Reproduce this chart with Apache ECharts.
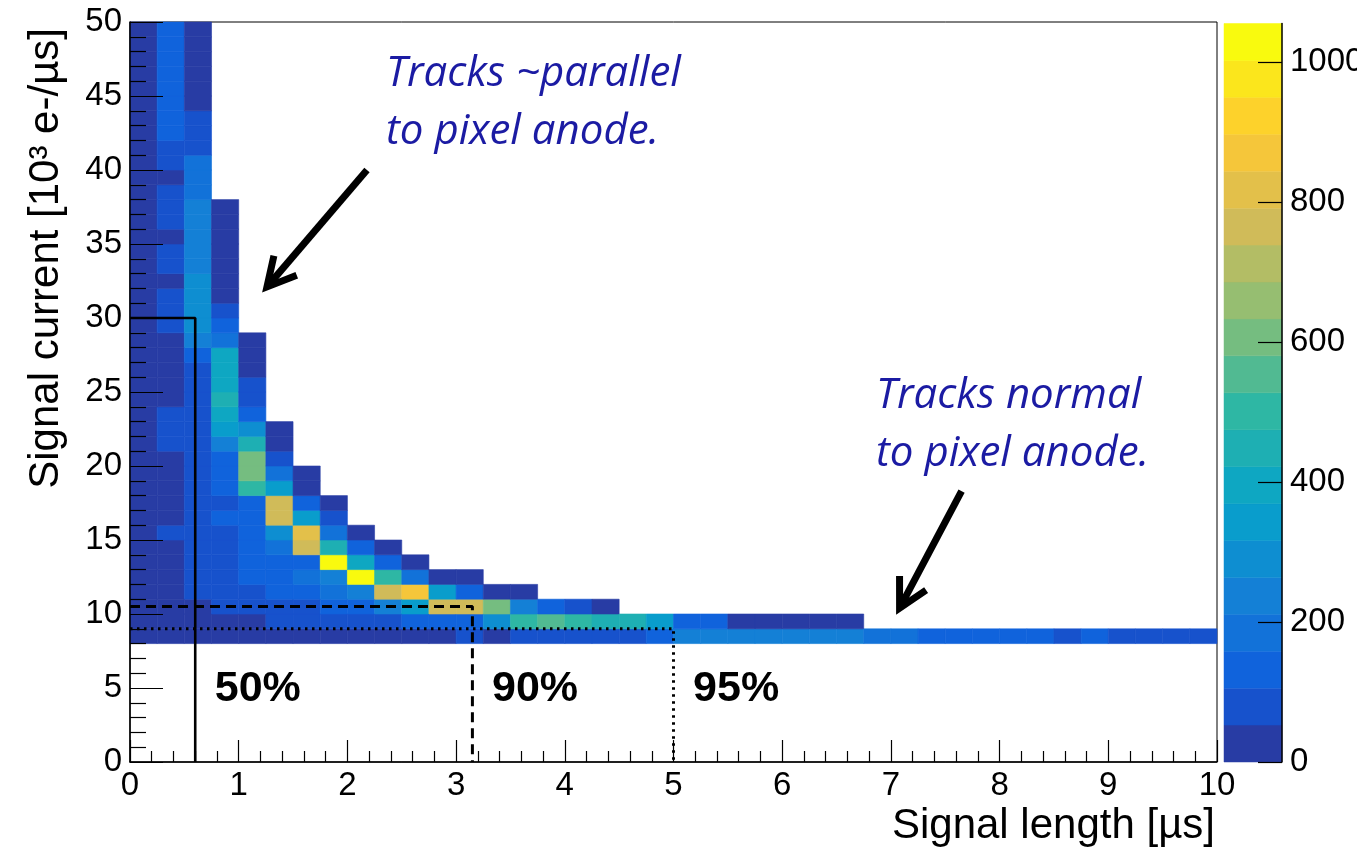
<!DOCTYPE html>
<html>
<head>
<meta charset="utf-8">
<script src="https://cdn.jsdelivr.net/npm/echarts@6/dist/echarts.min.js"></script>
<style>
  html, body { margin: 0; padding: 0; background: #fff; }
  #chart { width: 1357px; height: 847px; }
</style>
</head>
<body>
<div id="chart"></div>
<script>
// 2D histogram of pixel signals: signal current vs. signal length
const xBinWidth = 0.25;   // µs
const yBinHeight = 1;     // 10^3 e-/µs
const firstRowY = 8;      // every column starts at the 8..9 row

// Entries per 0.25 µs column, listed from the y = 8 row upward
const columnCounts = [
  [31,24,18,27,22,35,29,21,33,26,19,30,25,38,28,23,34,27,20,32,26,36,29,24,31,22,28,35,25,30,21,27,33,24,29,36,26,32,23,28,34,30],
  [40,44,47,45,43,48,46,58,44,42,45,47,49,57,61,56,48,46,44,47,50,60,64,59,49,57,62,47,58,63,66,50,72,84,112,118,121,124,119,126,122,128],
  [24,38,50,62,68,72,75,78,74,70,73,69,66,64,60,63,58,61,57,128,236,284,296,290,278,250,242,236,228,222,198,186,172,96,84,66,44,38,34,30,26,22],
  [30,46,64,72,80,88,92,98,112,102,118,126,138,232,346,398,452,404,392,380,184,136,70,40,34,28,24,20,16,12],
  [34,50,86,104,122,134,142,146,150,154,508,612,598,448,288,140,94,70,46,36,22],
  [42,74,96,128,140,150,190,300,770,752,342,176,80,44,26],
  [44,68,90,136,168,152,774,812,336,148,40,24],
  [38,76,130,182,224,1030,456,178,92,36],
  [34,70,144,236,1055,402,146,30],
  [30,66,230,780,494,132,32],
  [28,120,352,870,186,38],
  [36,126,762,334,34],
  [60,132,786,138,40],
  [48,296,596,42],
  [64,486,226,36],
  [70,560,118],
  [74,502,88],
  [78,440,42],
  [82,430],
  [116,338],
  [222,124],
  [238,116],
  [242,48],
  [232,42],
  [226,38],
  [244,34],
  [218,30],
  [196],
  [180],
  [154],
  [148],
  [150],
  [142],
  [138],
  [100],
  [134],
  [94],
  [98],
  [90],
  [102]
];

// Colour scale: 20 contour levels from 0 to the histogram maximum
const zMax = 1055;
const palette = ['#283ca4','#1752cc','#1063dc','#1272d9','#1480d6','#0e8ed1','#099dcc','#0ea7c2','#1eafb3','#2eb7a4',
                 '#51ba92','#75bd80','#96be71','#b3bd65','#d0bb59','#e3c04a','#f5c63a','#fdd22b','#fbe61c','#f9fa0e'];
const colorbarTicks = [0, 200, 400, 600, 800, 1000];

// Containment thresholds: signal length limit and current level for each fraction
const thresholdX = [0.6, 3.15, 5.0];
const thresholdY = [30, 10.5, 9.0];
const thresholdText = ['50%', '90%', '95%'];
const thresholdDash = ['solid', [10, 6], [2.5, 4.5]];
const thresholdWidth = [2.6, 3, 3];

// Annotation arrows: [tail x, tail y, head x, head y] in axis units
const arrowSegments = [
  [2.18, 40.0, 1.26, 32.1],
  [7.65, 18.3, 7.08, 10.4]
];

const levelStep = zMax / palette.length;

const cells = [];
columnCounts.forEach((col, i) => {
  col.forEach((v, j) => {
    cells.push([i * xBinWidth, firstRowY + j * yBinHeight, v]);
  });
});

const pieces = palette.map((c, i) => (
  i === palette.length - 1
    ? { gte: i * levelStep, lte: zMax * 1.01, color: c }
    : { gte: i * levelStep, lt: (i + 1) * levelStep, color: c }
));

const bands = palette.map((c, i) => [i * levelStep, (i + 1) * levelStep]);

const tickFont = 'Liberation Sans';
const tickSize = 33;
const axisColor = '#000';

const chart = echarts.init(document.getElementById('chart'), null, { renderer: 'canvas' });

const series = [
  {
    name: 'histogram',
    type: 'custom',
    xAxisIndex: 0,
    yAxisIndex: 0,
    z: 1,
    data: cells,
    encode: { x: 0, y: 1 },
    renderItem(params, api) {
      const x0 = api.value(0), y0 = api.value(1);
      const p0 = api.coord([x0, y0 + yBinHeight]);
      const p1 = api.coord([x0 + xBinWidth, y0]);
      const c = api.visual('color');
      return {
        type: 'rect',
        shape: { x: p0[0], y: p0[1], width: p1[0] - p0[0], height: p1[1] - p0[1] },
        style: { fill: c, stroke: c, lineWidth: 0.6 }
      };
    }
  },
  {
    name: 'colorbar',
    type: 'custom',
    xAxisIndex: 1,
    yAxisIndex: 1,
    z: 1,
    silent: true,
    data: bands,
    encode: { y: [0, 1] },
    renderItem(params, api) {
      const p0 = api.coord([0, api.value(1)]);
      const p1 = api.coord([1, api.value(0)]);
      const c = palette[params.dataIndex];
      return {
        type: 'rect',
        shape: { x: p0[0], y: p0[1], width: p1[0] - p0[0], height: p1[1] - p0[1] },
        style: { fill: c, stroke: c, lineWidth: 0.5 }
      };
    }
  }
];

thresholdX.forEach((tx, i) => {
  series.push({
    name: thresholdText[i],
    type: 'line',
    xAxisIndex: 0,
    yAxisIndex: 0,
    z: 4,
    silent: true,
    symbol: 'none',
    data: [[0, thresholdY[i]], [tx, thresholdY[i]], [tx, 0]],
    lineStyle: { color: '#000', width: thresholdWidth[i], type: thresholdDash[i] }
  });
});

series.push({
  name: 'fractions',
  type: 'scatter',
  xAxisIndex: 0,
  yAxisIndex: 0,
  z: 5,
  silent: true,
  symbolSize: 0,
  itemStyle: { opacity: 1 },
  data: thresholdX.map(tx => [tx + 0.18, 4.9]),
  label: {
    show: true,
    position: [0, 0],
    align: 'left',
    verticalAlign: 'middle',
    formatter: p => thresholdText[p.dataIndex],
    fontFamily: tickFont,
    fontWeight: 'bold',
    fontSize: 43,
    color: '#000',
    opacity: 1
  }
});

series.push({
  name: 'arrows',
  type: 'custom',
  xAxisIndex: 0,
  yAxisIndex: 0,
  z: 6,
  silent: true,
  data: arrowSegments,
  encode: { x: [0, 2], y: [1, 3] },
  renderItem(params, api) {
    const t = api.coord([api.value(0), api.value(1)]);
    const h = api.coord([api.value(2), api.value(3)]);
    const ang = Math.atan2(t[1] - h[1], t[0] - h[0]);
    const L = 32, a = 28 * Math.PI / 180;
    const p1 = [h[0] + L * Math.cos(ang + a), h[1] + L * Math.sin(ang + a)];
    const p2 = [h[0] + L * Math.cos(ang - a), h[1] + L * Math.sin(ang - a)];
    const s = [h[0] + 4 * Math.cos(ang), h[1] + 4 * Math.sin(ang)];
    return {
      type: 'group',
      children: [
        { type: 'line', shape: { x1: t[0], y1: t[1], x2: s[0], y2: s[1] }, style: { stroke: '#000', lineWidth: 7 } },
        { type: 'polyline', shape: { points: [p1, h, p2] }, style: { stroke: '#000', lineWidth: 7, fill: null, lineJoin: 'miter' } }
      ]
    };
  }
});

const noteStyle = {
  fill: '#1b1ba3',
  font: 'italic 42px "Open Sans", Lato, sans-serif',
  lineHeight: 58
};

chart.setOption({
  animation: false,
  backgroundColor: '#fff',
  grid: [
    { left: 130, top: 22, width: 1087, height: 740, outerBoundsMode: 'none', containLabel: false,
      show: true, borderColor: '#000', borderWidth: 1, backgroundColor: 'transparent' },
    { left: 1224, top: 762 - zMax * 0.7, width: 58, height: zMax * 0.7, outerBoundsMode: 'none', containLabel: false, show: false }
  ],
  xAxis: [
    {
      gridIndex: 0, type: 'value', min: 0, max: 10, interval: 1, z: 10,
      axisLine: { show: true, onZero: false, lineStyle: { color: axisColor, width: 1.5 } },
      axisTick: { show: true, inside: true, length: 22, lineStyle: { color: axisColor, width: 1.2 } },
      minorTick: { show: true, splitNumber: 5, length: 11, lineStyle: { color: axisColor, width: 1.2 } },
      axisLabel: { color: '#000', fontFamily: tickFont, fontSize: tickSize, margin: 7 },
      splitLine: { show: false }
    },
    { gridIndex: 1, type: 'value', min: 0, max: 1, show: false }
  ],
  yAxis: [
    {
      gridIndex: 0, type: 'value', min: 0, max: 50, interval: 5, z: 10,
      axisLine: { show: true, onZero: false, lineStyle: { color: axisColor, width: 1.5 } },
      axisTick: { show: true, inside: true, length: 33, lineStyle: { color: axisColor, width: 1.2 } },
      minorTick: { show: true, splitNumber: 5, length: 16, lineStyle: { color: axisColor, width: 1.2 } },
      axisLabel: { color: '#000', fontFamily: tickFont, fontSize: tickSize, margin: 8 },
      splitLine: { show: false }
    },
    {
      gridIndex: 1, type: 'value', min: 0, max: zMax, interval: 200, position: 'right', z: 10,
      axisLine: { show: true, onZero: false, lineStyle: { color: axisColor, width: 1.5 } },
      axisTick: { show: true, inside: true, length: 24, customValues: colorbarTicks, lineStyle: { color: axisColor, width: 1.2 } },
      axisLabel: { color: '#000', fontFamily: tickFont, fontSize: tickSize, margin: 8, customValues: colorbarTicks,
                   formatter: v => String(v) },
      splitLine: { show: false }
    }
  ],
  visualMap: {
    type: 'piecewise',
    show: false,
    seriesIndex: 0,
    dimension: 2,
    pieces: pieces
  },
  graphic: [
    {
      type: 'text', x: 1215, y: 826, z: 20,
      style: { text: 'Signal length [µs]', font: '42px "Liberation Sans", sans-serif', fill: '#000', align: 'right', verticalAlign: 'middle' }
    },
    {
      type: 'text', x: 46, y: 28, rotation: Math.PI / 2, z: 20,
      style: { text: 'Signal current [10³ e-/µs]', font: '42px "Liberation Sans", sans-serif', fill: '#000', align: 'right', verticalAlign: 'middle' }
    },
    {
      type: 'text', left: 386, top: 45, z: 20,
      style: Object.assign({ text: 'Tracks ~parallel\nto pixel anode.' }, noteStyle)
    },
    {
      type: 'text', left: 876, top: 367, z: 20,
      style: Object.assign({ text: 'Tracks normal\nto pixel anode.' }, noteStyle)
    }
  ],
  series: series
});
</script>
</body>
</html>
